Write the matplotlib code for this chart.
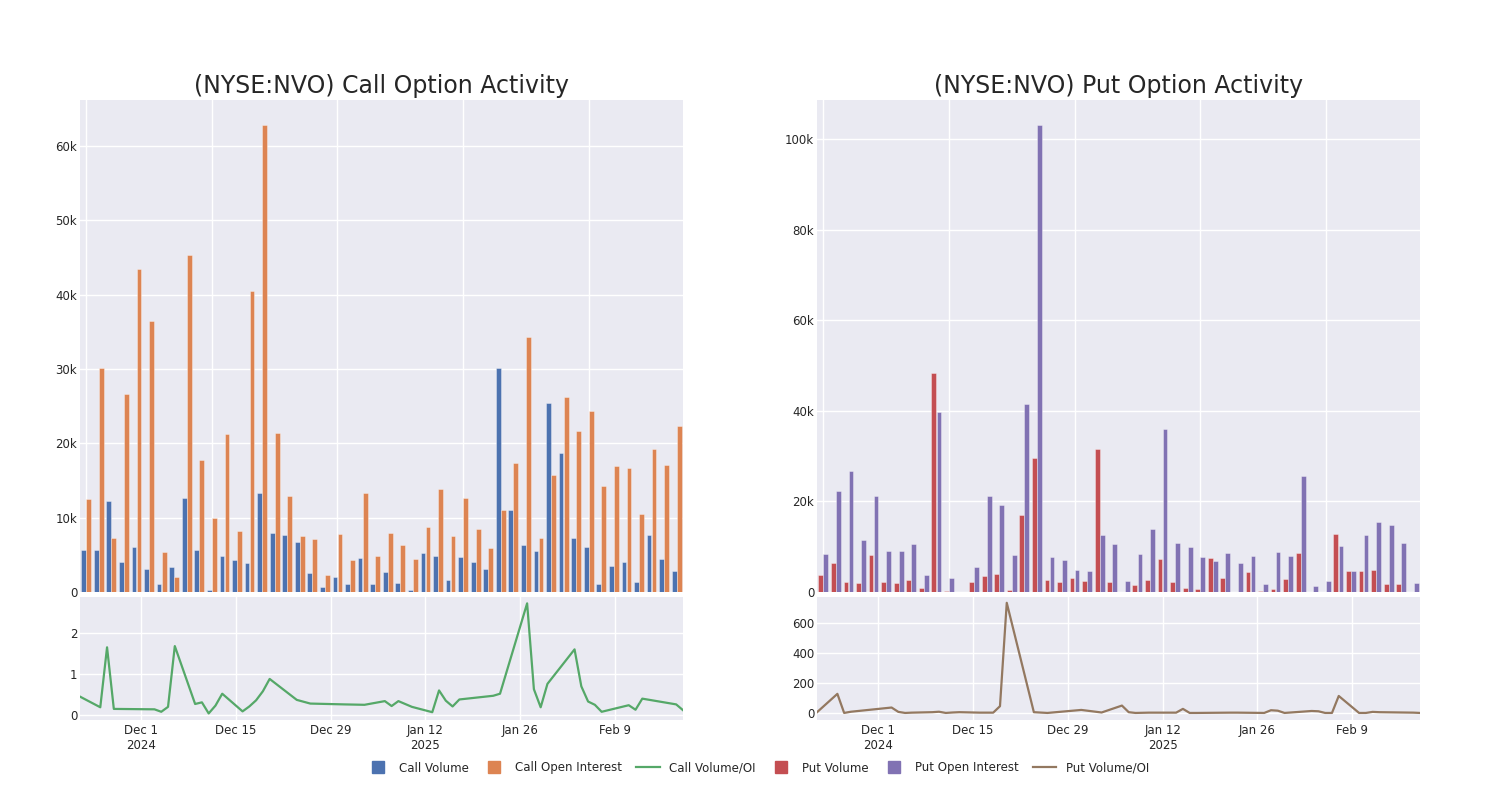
import pandas as pd
import matplotlib.pyplot as plt
from matplotlib.lines import Line2D
import numpy as np

# trading days shown in the chart
dates = ["2024-11-22", "2024-11-25", "2024-11-26", "2024-11-27", "2024-12-03", "2024-12-04",
         "2024-12-05", "2024-12-06", "2024-12-09", "2024-12-10", "2024-12-11", "2024-12-12",
         "2024-12-13", "2024-12-16", "2024-12-17", "2024-12-18", "2024-12-19", "2024-12-20",
         "2024-12-24", "2024-12-26", "2024-12-31", "2025-01-03", "2025-01-06", "2025-01-07",
         "2025-01-08", "2025-01-10", "2025-01-13", "2025-01-14", "2025-01-15", "2025-01-16",
         "2025-01-17", "2025-01-22", "2025-01-23", "2025-01-27", "2025-01-28", "2025-01-29",
         "2025-01-30", "2025-02-03", "2025-02-04", "2025-02-05", "2025-02-06", "2025-02-07",
         "2025-02-10", "2025-02-11", "2025-02-12", "2025-02-13", "2025-02-18", "2025-02-19"]

call_volume = [5.7, 5.6, 12.2, 4.0, 6.0, 3.1, 1.1, 3.3, 12.6, 5.6,
               0.3, 4.9, 4.3, 3.9, 13.3, 7.9, 7.65, 6.7, 2.6, 0.63,
               2.0, 1.1, 4.6, 1.1, 2.7, 1.2, 0.27, 5.3, 4.8, 1.6,
               4.7, 4.0, 3.1, 30.2, 11.1, 6.35, 5.5, 25.4, 18.7, 7.2,
               6.1, 1.1, 3.5, 4.05, 1.4, 7.7, 4.45, 2.8]
call_oi = [12.5, 30.2, 7.3, 26.7, 43.4, 36.4, 5.4, 2.0, 45.4, 17.7,
           9.9, 21.3, 8.2, 40.5, 62.9, 21.4, 12.9, 7.5, 7.1, 2.25,
           7.8, 4.3, 13.3, 4.8, 8.0, 6.3, 4.5, 8.7, 13.9, 7.6,
           12.6, 8.5, 5.9, 11.0, 17.3, 34.3, 7.25, 15.7, 26.3, 21.7,
           24.4, 14.3, 16.9, 16.7, 10.5, 19.2, 17.1, 22.4]
call_ratio = [0.45, 0.19, 1.65, 0.15, 0.14, 0.08, 0.2, 1.68, 0.27, 0.31,
              0.04, 0.23, 0.52, 0.09, 0.21, 0.36, 0.58, 0.88, 0.37, 0.28,
              0.26, 0.25, 0.34, 0.22, 0.34, 0.2, 0.07, 0.6, 0.35, 0.21,
              0.38, 0.47, 0.52, 2.72, 0.63, 0.19, 0.76, 1.6, 0.7, 0.33,
              0.25, 0.08, 0.2, 0.24, 0.13, 0.4, 0.26, 0.12]

put_volume = [3.85, 6.3, 2.1, 1.9, 8.2, 2.2, 1.9, 2.7, 0.8, 48.4,
              0.2, 0.07, 2.2, 3.5, 3.9, 0.4, 17.1, 29.5, 2.7, 2.1,
              3.0, 2.4, 31.7, 2.1, 0.05, 1.6, 2.7, 7.3, 2.2, 0.8,
              0.6, 7.5, 3.0, 0.1, 4.5, 0.2, 0.7, 2.9, 8.6, 0.0,
              0.07, 12.9, 4.65, 4.65, 4.9, 1.85, 1.85, 0.07]
put_oi = [8.5, 22.3, 26.7, 11.4, 21.3, 9.1, 9.1, 10.6, 3.7, 39.7,
          3.1, 0.07, 5.6, 21.2, 19.3, 8.2, 41.5, 103.2, 7.8, 7.1,
          4.9, 4.65, 12.6, 10.5, 2.4, 8.5, 14.0, 36.1, 10.9, 10.0,
          7.8, 6.8, 8.6, 6.5, 7.9, 1.85, 8.8, 7.9, 25.6, 1.25,
          2.5, 10.1, 4.65, 12.7, 15.4, 14.8, 10.9, 2.0]
put_ratio = [5, 127, 0, 8, 36, 7, 0, 2, 5, 8,
             0, 3, 5, 2, 2, 2, 45, 733, 5, 0,
             20, 3, 49, 5, 0, 2, 2, 2, 27, 0,
             0, 2, 2, 0, 18, 15, 0, 13, 11, 0,
             0, 113, 0, 0, 7, 5, 2, 0]

date_ticks = ["2024-12-01", "2024-12-15", "2024-12-29", "2025-01-12", "2025-01-26", "2025-02-09"]
date_tick_labels = ["Dec 1\n2024", "Dec 15", "Dec 29", "Jan 12\n2025", "Jan 26", "Feb 9"]

BG = "#EAEAF2"
TXT = "#262626"
c_blue, c_orange, c_green = "#4C72B0", "#DD8452", "#55A868"
c_red, c_purple, c_brown = "#C44E52", "#8172B3", "#937860"

days = pd.to_datetime(dates)
ticks = pd.to_datetime(date_ticks)
idx = np.arange(len(dates))

fig = plt.figure(figsize=(15, 8), dpi=100)


def style(ax):
    ax.set_facecolor(BG)
    ax.grid(True, color="white", linewidth=1)
    ax.set_axisbelow(True)
    for s in ax.spines.values():
        s.set_visible(False)
    ax.tick_params(length=0, labelsize=8.5, colors=TXT, pad=2)


def panel(x0, vol, oi, ratio, cv, co, cl, title, ymax_bar, yticks_bar, ylims_line, yticks_line):
    ax_top = fig.add_axes([x0, 0.26, 0.402, 0.615])
    ax_bot = fig.add_axes([x0, 0.10, 0.402, 0.154])
    style(ax_top)
    style(ax_bot)

    ax_top.bar(idx - 0.2, np.array(vol) * 1000, width=0.38, color=cv,
               edgecolor=(1, 1, 1, 0.5), linewidth=0.5)
    ax_top.bar(idx + 0.2, np.array(oi) * 1000, width=0.38, color=co,
               edgecolor=(1, 1, 1, 0.5), linewidth=0.5)
    ax_top.set_xlim(-0.5, len(dates) - 0.5)
    ax_top.set_ylim(0, ymax_bar)
    ax_top.set_xticks([0, 10, 20, 30, 40])
    ax_top.set_xticklabels([])
    ax_top.set_yticks(yticks_bar)
    ax_top.set_yticklabels(["0"] + [f"{int(v / 1000)}k" for v in yticks_bar[1:]])
    ax_top.set_title(title, fontsize=17, color=TXT, pad=5)

    ax_bot.plot(days, ratio, color=cl, linewidth=1.6)
    ax_bot.set_xlim(days[0], days[-1])
    ax_bot.set_ylim(*ylims_line)
    ax_bot.set_yticks(yticks_line)
    ax_bot.set_xticks(ticks)
    ax_bot.set_xticklabels(date_tick_labels)
    ax_bot.tick_params(axis="x", pad=3)


panel(0.0533, call_volume, call_oi, call_ratio, c_blue, c_orange, c_green,
      "(NYSE:NVO) Call Option Activity", 66200, [0, 10000, 20000, 30000, 40000, 50000, 60000],
      (-0.12, 2.88), [0, 1, 2])
panel(0.5447, put_volume, put_oi, put_ratio, c_red, c_purple, c_brown,
      "(NYSE:NVO) Put Option Activity", 108700, [0, 20000, 40000, 60000, 80000, 100000],
      (-47, 773), [0, 200, 400, 600])

handles = [
    Line2D([], [], marker="s", linestyle="none", color=c_blue, markersize=9),
    Line2D([], [], marker="s", linestyle="none", color=c_orange, markersize=9),
    Line2D([], [], color=c_green, linewidth=1.6),
    Line2D([], [], marker="s", linestyle="none", color=c_red, markersize=9),
    Line2D([], [], marker="s", linestyle="none", color=c_purple, markersize=9),
    Line2D([], [], color=c_brown, linewidth=1.6),
]
labels = ["Call Volume", "Call Open Interest", "Call Volume/OI",
          "Put Volume", "Put Open Interest", "Put Volume/OI"]
fig.legend(handles, labels, loc="center", bbox_to_anchor=(0.505, 0.04), ncol=6,
           frameon=False, fontsize=8.5, handlelength=2, columnspacing=1.15,
           labelcolor=TXT)

fig.savefig("out.png", dpi=100, facecolor="white")
